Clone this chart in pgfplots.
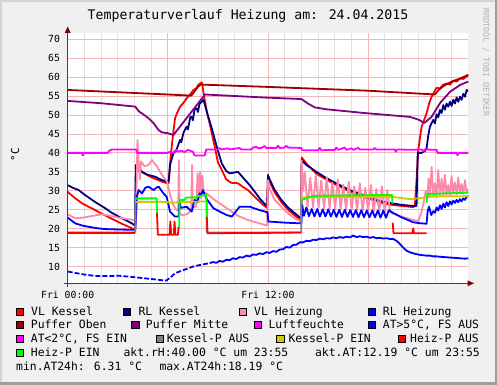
\documentclass[border=0pt]{standalone}
\usepackage{pgfplots}
\pgfplotsset{compat=1.18}
\usepackage{fontspec}
\setmainfont{DejaVu Sans Mono}
\definecolor{bgc}{HTML}{F0F0F0}
\definecolor{bdlight}{HTML}{D4D4D4}
\definecolor{bddark}{HTML}{9E9E9E}
\definecolor{axcol}{HTML}{6A3030}
\definecolor{arrcol}{HTML}{800000}
\definecolor{gridmaj}{HTML}{F2B6B6}
\definecolor{gridmin}{HTML}{E0E0E0}
\definecolor{cVLK}{HTML}{FF0000}
\definecolor{cRLK}{HTML}{000080}
\definecolor{cVLH}{HTML}{FF88AA}
\definecolor{cRLH}{HTML}{0000FF}
\definecolor{cPO}{HTML}{A00000}
\definecolor{cPM}{HTML}{800080}
\definecolor{cLF}{HTML}{FF00FF}
\definecolor{cAT}{HTML}{0000FF}
\definecolor{cATL}{HTML}{FF00FF}
\definecolor{cKA}{HTML}{808080}
\definecolor{cKE}{HTML}{CCCC00}
\definecolor{cHA}{HTML}{FF0000}
\definecolor{cHE}{HTML}{00FF00}
\newcommand{\legfont}{\fontsize{11.4bp}{13bp}\selectfont}
\newcommand{\sw}[3]{\filldraw[fill=#3,draw=black,line width=0.7bp] (#1bp,#2bp-3.6bp) rectangle ++(7.3bp,7.3bp);}
\newcommand{\lt}[3]{\node[anchor=base west,inner sep=0pt,font=\legfont] at (#1bp,#2bp-4bp) {#3};}
\begin{document}
\begin{tikzpicture}
\fill[bgc] (0,0) rectangle (497bp,385bp);
\fill[bdlight] (0,383bp) rectangle (497bp,385bp);
\fill[bdlight] (0,0) rectangle (2bp,385bp);
\fill[bddark] (494.5bp,0) rectangle (497bp,385bp);
\fill[bddark] (0,0) rectangle (497bp,2.5bp);
\begin{axis}[
 at={(67.7bp,101.7bp)}, anchor=south west, scale only axis,
 width=400.6bp, height=250.6bp,
 xmin=0, xmax=24, ymin=5.6, ymax=71.7,
 axis background/.style={fill=white},
 axis line style={draw=none},
 xtick={0,6,12,18}, xticklabels={Fri 00:00,,Fri 12:00,},
 minor xtick={1,2,3,4,5,7,8,9,10,11,13,14,15,16,17,19,20,21,22,23},
 ytick={10,15,...,70}, yticklabels={10,15,20,25,30,35,40,45,50,55,60,65,70},
 grid=both,
 major grid style={draw=gridmaj, line width=0.8bp},
 minor grid style={draw=gridmin, line width=0.8bp},
 major tick length=0pt, minor tick length=0pt,
 tick label style={font=\fontsize{9.8bp}{11bp}\selectfont},
 yticklabel style={anchor=east, inner sep=0pt, xshift=-7.5bp},
 xticklabel style={anchor=north, inner sep=0pt, yshift=-8bp},
 every axis plot/.append style={line width=1.8bp, line join=round, mark=none},
 unbounded coords=jump,
]
% VL Kessel
\addplot[cVLK] coordinates {(0,29.7)(0.4,28.2)(0.86,26.7)(1.25,25.8)(1.65,24.9)(2.2,23.6)(2.65,22.6)(3.2,21.4)(3.65,20.5)(4.0,19.8)(4.05,19.7)(4.1,35.5)(4.45,34.9)(5.0,33.6)(5.65,32.4)(5.95,32.0)(6.05,32.0)(6.15,38)(6.23,41.6)(6.33,45.5)(6.43,49.1)(6.55,50.5)(6.73,52.2)(6.9,53.0)(7.13,54.4)(7.3,55.2)(7.53,56.6)(7.7,57.0)(7.8,57.8)(7.93,58.3)(8.03,58.6)(8.08,57.6)(8.15,55.5)(8.23,53.5)(8.35,50.5)(8.53,47.3)(8.7,43.8)(8.83,41.2)(9.0,37.5)(9.23,35.5)(9.5,33.0)(9.8,32.1)(10.2,32.0)(10.5,31.0)(10.8,30.2)(11.3,28.0)(11.7,26.3)(11.95,25.5)(12.0,33.8)(12.1,32.4)(12.4,29.6)(12.8,27.0)(13.2,25.0)(13.6,23.5)(13.98,22.3)(14.02,38.8)(14.3,37.2)(14.9,34.5)(15.4,33.2)(15.9,32.0)(16.4,30.9)(16.9,29.8)(17.4,29.0)(17.9,28.1)(18.4,27.4)(18.9,26.7)(19.4,26.3)(20.0,26.0)(20.7,25.7)(20.8,26.0)(20.9,33)(21.0,40.75)(21.2,46.9)(21.5,50.4)(21.65,53)(21.8,54.8)(22.1,57.2)(22.3,57.0)(22.5,58.0)(22.7,58.3)(22.9,58.0)(23.1,59.0)(23.3,58.8)(23.5,59.6)(23.7,59.5)(23.9,60.2)(24.0,60.3)};
% RL Kessel
\addplot[cRLK] coordinates {(0,31.5)(0.3,30.8)(0.66,30.2)(1.0,29.0)(1.46,27.6)(1.8,26.6)(2.25,25.4)(2.6,24.3)(3.05,23.2)(3.5,22.2)(3.85,21.4)(4.03,20.8)(4.08,36.8)(4.15,36.8)(4.45,35.0)(4.8,34.2)(5.25,33.7)(5.6,32.9)(5.93,32.4)(6.05,32.6)(6.13,36.8)(6.33,39.9)(6.5,40.6)(6.73,43.4)(6.8,42.8)(6.95,45.5)(7.13,46.9)(7.2,46.2)(7.35,49.5)(7.43,49.5)(7.5,48.6)(7.6,51.5)(7.73,51.7)(7.8,50.8)(7.9,53.0)(8.03,53.5)(8.13,54.0)(8.2,53.0)(8.33,50.9)(8.63,46.5)(8.93,41.6)(9.23,37.2)(9.5,35.2)(9.72,34.6)(10.2,35.0)(10.5,33.5)(10.9,31.5)(11.2,29.8)(11.5,28.0)(11.83,26.4)(11.95,26.0)(12.0,34.2)(12.1,33.0)(12.4,30.2)(12.8,27.6)(13.2,25.6)(13.6,24.1)(13.98,22.75)(14.02,38.1)(14.3,36.8)(14.9,35.0)(15.4,33.6)(15.9,32.4)(16.4,31.3)(16.9,30.2)(17.4,29.4)(17.9,28.6)(18.4,27.8)(18.9,27.1)(19.4,26.7)(20.0,26.3)(20.7,26.0)(20.9,26.0)(20.97,40.0)(21.2,40.0)(21.4,40.5)(21.5,41.2)(21.6,44.5)(21.7,46.9)(21.9,48.7)(22.0,47.8)(22.1,50.2)(22.2,49.4)(22.3,51.3)(22.4,50.5)(22.5,52.6)(22.6,51.4)(22.7,53.0)(22.8,52.2)(22.9,53.5)(23.0,52.4)(23.1,54.0)(23.2,53.0)(23.3,54.6)(23.4,53.5)(23.5,54.8)(23.6,54.0)(23.7,55.6)(23.8,54.8)(23.9,56.6)(24.0,56.3)};
% VL Heizung
\addplot[cVLH] coordinates {(0,23.8)(0.46,22.75)(0.9,22.9)(1.26,23.2)(2.05,23.8)(2.6,23.4)(3.05,22.9)(3.5,22.6)(3.95,22.3)(4.05,22.5)(4.12,30)(4.18,43.4)(4.25,38)(4.32,33)(4.4,37.7)(4.6,36.5)(4.85,36.8)(5.05,38.1)(5.2,37.2)(5.35,36.4)(5.65,34.2)(5.95,32.4)(6.1,29.5)(6.3,26.5)(6.5,25.0)(6.62,24.6)(6.66,38.1)(6.7,24.0)(6.9,23.5)(7.2,24.0)(7.4,25.0)(7.45,36.8)(7.5,25.5)(7.7,26.0)(7.78,34.6)(7.83,27.0)(7.93,35.0)(7.98,28.0)(8.07,34.0)(8.15,29.5)(8.33,29.3)(8.8,27.6)(9.5,25.5)(10.2,23.4)(10.8,22.3)(11.5,21.4)(11.95,20.8)(12.0,32.8)(12.1,30.5)(12.4,27.6)(12.8,25.8)(13.2,24.0)(13.6,22.75)(13.98,21.9)(14.02,38.0)(14.1,30)(14.2,35.0)(14.37,25.8)(14.53,33.5)(14.70,25.6)(14.86,34.2)(15.03,25.5)(15.19,32.8)(15.36,25.4)(15.52,33.6)(15.69,25.3)(15.85,32.2)(16.02,25.2)(16.18,33.0)(16.35,25.1)(16.51,31.6)(16.68,25.0)(16.84,32.4)(17.01,24.9)(17.17,31.2)(17.34,24.8)(17.50,32.0)(17.67,24.7)(17.83,30.8)(18.00,24.6)(18.16,31.5)(18.33,24.5)(18.49,30.5)(18.66,24.4)(18.82,31.2)(18.99,24.3)(19.15,30.2)(19.32,24.3)(19.45,24.0)(20.0,23.2)(20.7,22.3)(21.0,22.0)(21.2,24.5)(21.35,27.5)(21.45,30)(21.55,28)(21.62,33.3)(21.7,28.5)(21.8,36.3)(21.9,28.5)(22.0,32.0)(22.1,28.3)(22.2,35.5)(22.3,28.6)(22.4,33.2)(22.5,28.8)(22.6,34.2)(22.7,29.0)(22.8,31.5)(22.9,28.7)(23.0,34.0)(23.1,29.2)(23.2,32.2)(23.3,29.0)(23.4,33.5)(23.5,29.3)(23.6,31.8)(23.7,29.2)(23.8,32.8)(23.9,29.5)(24.0,30.5)};
% RL Heizung
\addplot[cRLH] coordinates {(0,22.9)(0.46,21.4)(0.9,20.8)(1.26,20.5)(1.8,20.1)(2.25,19.9)(3.0,19.8)(3.95,19.7)(4.05,19.8)(4.15,28.5)(4.25,30.2)(4.45,29.3)(4.65,30.8)(4.85,31.1)(5.0,30.6)(5.15,30.2)(5.3,30.8)(5.45,31.1)(5.7,29.5)(5.93,28.4)(6.13,24.5)(6.43,23.2)(6.65,23.2)(6.7,27.1)(6.78,25.5)(7.13,25.8)(7.43,24.5)(7.6,27.6)(7.75,27.0)(7.9,29.3)(8.0,28.8)(8.1,30.2)(8.3,28.0)(8.73,25.4)(9.2,24.3)(9.53,23.6)(9.83,23.2)(10.3,25.8)(10.9,25.8)(11.5,24.9)(11.83,24.5)(11.97,24.3)(12.02,21.9)(13.0,21.6)(14.0,21.4)(14.05,26.3)(14.15,23.4)(14.3,25.6)(14.45,23.3)(14.62,25.2)(14.78,23.2)(14.95,25.2)(15.11,23.2)(15.28,25.1)(15.44,23.2)(15.61,25.1)(15.77,23.2)(15.94,25.0)(16.1,23.1)(16.27,25.0)(16.43,23.1)(16.6,25.0)(16.76,23.1)(16.93,24.9)(17.09,23.1)(17.26,24.9)(17.42,23.0)(17.59,24.9)(17.75,23.0)(17.92,24.8)(18.08,23.0)(18.25,24.8)(18.41,23.0)(18.58,24.8)(18.74,22.9)(18.91,24.8)(19.07,22.9)(19.24,24.9)(19.45,24.3)(20.0,23.0)(20.7,21.7)(21.0,21.5)(21.5,21.3)(21.56,24.5)(21.65,25.8)(21.78,23.6)(21.9,24.6)(22.0,24.2)(22.1,25.6)(22.2,24.8)(22.3,26.2)(22.4,25.2)(22.5,26.6)(22.6,25.6)(22.7,27.0)(22.8,26.0)(22.9,27.2)(23.0,26.4)(23.1,27.4)(23.2,26.8)(23.3,27.6)(23.4,27.0)(23.5,27.8)(23.6,27.2)(23.7,28.0)(23.8,27.6)(23.9,28.4)(24.0,28.6)};
% Puffer Oben
\addplot[cPO] coordinates {(0,56.6)(3.0,56.0)(6.0,55.4)(7.4,55.1)(7.6,56.2)(7.8,57.4)(8.0,58.1)(8.1,58.0)(12,57.4)(18,56.4)(22,55.4)(22.2,56.5)(22.5,57.6)(23.0,58.8)(23.5,59.6)(24.0,60.6)};
% Puffer Mitte
\addplot[cPM] coordinates {(0,53.7)(2.0,53.1)(4.05,52.2)(4.25,51.0)(4.55,50.1)(4.85,49.1)(5.15,47.8)(5.45,46.0)(5.65,45.4)(6.0,45.2)(6.33,44.7)(8.23,55.4)(11.8,54.6)(14.0,54.2)(14.4,53.0)(14.8,52.0)(15.5,51.5)(17.8,50.5)(20.5,49.5)(21.0,48.8)(21.37,47.9)(21.8,49.5)(22.3,53.1)(22.9,56.1)(23.5,57.9)(24.0,58.8)};
% Luftfeuchte
\addplot[cLF] coordinates {(0,40.0)(0.85,40.0)(0.9,39.3)(0.95,40.0)(2.4,40.0)(2.5,40.6)(2.65,40.9)(4.1,40.9)(4.15,40.0)(6.0,40.0)(6.1,40.3)(6.3,40.0)(6.5,40.8)(6.6,40.3)(6.8,40.6)(7.0,40.2)(7.2,40.8)(7.5,40.3)(7.6,39.3)(8.2,39.3)(8.3,40.9)(9.0,40.9)(9.1,41.3)(9.2,40.9)(9.6,41.2)(9.7,40.9)(10.3,41.3)(10.4,40.9)(11.0,40.9)(11.1,41.4)(11.3,41.6)(11.4,41.2)(11.6,41.3)(11.8,41.8)(11.9,41.3)(12.5,41.3)(12.6,41.9)(12.7,41.3)(13.0,41.4)(13.1,41.9)(13.2,41.4)(14.0,41.3)(14.05,40.7)(15.0,40.7)(15.1,41.3)(15.2,40.7)(16.0,40.8)(16.1,41.4)(16.2,40.8)(16.6,41.4)(16.7,40.8)(17.0,41.2)(17.1,40.8)(17.4,41.3)(17.5,40.9)(18.3,40.9)(18.4,41.3)(18.5,40.9)(19.6,40.9)(19.65,40.3)(19.75,40.9)(20.8,40.8)(21.0,40.9)(21.2,40.9)(21.3,40.4)(21.4,40.9)(22.1,40.8)(22.15,40.0)(23.3,40.0)(23.35,39.4)(23.45,40.0)(24.0,40.0)};
% AT>5 dashed part
\addplot[cAT, dash pattern=on 5bp off 2bp] coordinates {(0,8.7)(0.5,8.3)(1.0,7.9)(1.65,7.55)(2.3,7.5)(3.05,7.6)(3.8,7.3)(4.65,6.9)(5.3,6.6)(5.85,6.3)(5.93,6.4)(6.2,7.3)(6.43,8.25)(7.0,9.2)(7.5,10.0)(8.0,10.5)(8.5,10.9)};
% AT>5 solid part
\addplot[cAT] coordinates {(8.5,10.9)(8.7,11.2)(8.9,11.0)(9.1,11.5)(9.3,11.3)(9.5,11.8)(9.7,11.7)(9.9,12.2)(10.1,12.0)(10.3,12.5)(10.5,12.4)(10.7,12.9)(10.9,12.7)(11.1,13.2)(11.3,13.1)(11.5,13.5)(11.7,13.3)(11.9,13.8)(12.1,13.6)(12.3,14.1)(12.5,13.9)(12.7,14.5)(12.9,14.6)(13.1,15.2)(13.3,15.0)(13.5,15.7)(13.7,15.8)(13.9,16.4)(14.1,16.4)(14.3,16.8)(14.5,16.7)(14.7,17.1)(14.9,17.0)(15.1,17.4)(15.3,17.2)(15.5,17.5)(15.7,17.4)(15.9,17.7)(16.1,17.5)(16.3,17.8)(16.5,17.6)(16.7,17.9)(16.9,17.7)(17.1,18.2)(17.3,17.8)(17.5,18.0)(17.7,17.8)(17.9,17.9)(18.1,17.6)(18.3,17.8)(18.5,17.5)(18.7,17.6)(18.9,17.4)(19.1,17.5)(19.3,17.3)(19.5,17.3)(19.7,16.8)(19.9,16.0)(20.1,15.0)(20.3,14.2)(20.5,13.8)(20.7,13.5)(20.9,13.3)(21.1,13.1)(21.3,13.0)(21.5,12.9)(21.7,12.9)(21.9,12.7)(22.1,12.7)(22.3,12.6)(22.6,12.5)(22.9,12.4)(23.2,12.3)(23.5,12.2)(23.8,12.1)(24.0,12.19)};
% Kessel-P AUS
\addplot[cKA] coordinates {(0,19.0)(4.05,19.0)(4.06,27.0)(4.07,nan)(8.33,27.0)(8.34,19.0)(13.99,19.0)(14.0,27.5)};
% Kessel-P EIN
\addplot[cKE] coordinates {(4.06,27.0)(5.5,27.1)(6.0,27.0)(6.3,26.8)(6.6,27.0)(8.33,27.2)(8.34,nan)(14.0,27.5)(14.1,28.3)(19.4,28.4)(20.0,28.1)(20.5,27.8)(21.0,28.0)(21.5,28.3)(22.0,28.5)(24.0,28.6)};
% Heiz-P AUS
\addplot[cHA] coordinates {(0,18.9)(4.03,18.9)(4.04,nan)(5.35,24.1)(5.4,18.4)(6.1,18.4)(6.15,21.9)(6.2,18.4)(6.36,18.4)(6.4,21.9)(6.45,18.4)(6.6,18.4)(6.65,20.5)(6.66,nan)(8.33,23.2)(8.38,18.8)(12.0,18.9)(13.98,19.0)(13.99,nan)(19.47,21.6)(19.52,18.8)(20.65,18.8)(20.7,20.1)(20.75,18.8)(21.5,18.8)};
% Heiz-P EIN
\addplot[cHE] coordinates {(4.05,27.6)(4.1,28.0)(5.33,28.0)(5.35,24.1)(5.36,nan)(6.68,20.5)(6.7,27.6)(7.0,27.6)(7.1,28.2)(7.6,28.3)(7.7,28.0)(7.8,28.6)(8.0,28.7)(8.3,28.9)(8.33,23.2)(8.34,nan)(14.02,27.0)(14.05,27.6)(14.5,28.4)(15,28.7)(17,28.8)(19.43,28.9)(19.45,26.6)(19.46,nan)(21.5,26.8)(21.55,29.1)(22.5,29.3)(24,29.5)};
\end{axis}
% axes with arrows
\draw[axcol, line width=1bp] (67.7bp,98bp) -- (67.7bp,353bp);
\fill[arrcol] (64.7bp,352bp) -- (70.7bp,352bp) -- (67.7bp,358.5bp) -- cycle;
\draw[axcol, line width=1bp] (63.5bp,101.7bp) -- (468bp,101.7bp);
\fill[arrcol] (467.5bp,98.7bp) -- (467.5bp,104.7bp) -- (474bp,101.7bp) -- cycle;
% title and labels
\node[font=\fontsize{13.2bp}{15bp}\selectfont, inner sep=0pt] at (248bp,369bp) {Temperaturverlauf Heizung am: 24.04.2015};
\node[rotate=90, font=\fontsize{11bp}{13bp}\selectfont, inner sep=0pt] at (15bp,230bp) {°C};
\node[rotate=-90, font=\fontsize{8.2bp}{9bp}\selectfont, text=black!30, inner sep=0pt] at (486bp,322.5bp) {RRDTOOL / TOBI OETIKER};
% legend
\sw{16}{73.3}{cVLK}\lt{31}{73.3}{VL Kessel}
\sw{123.3}{73.3}{cRLK}\lt{138.3}{73.3}{RL Kessel}
\sw{239.3}{73.3}{cVLH}\lt{254}{73.3}{VL Heizung}
\sw{368.3}{73.3}{cRLH}\lt{382.7}{73.3}{RL Heizung}
\sw{16}{60}{cPO}\lt{30.7}{60}{Puffer Oben}
\sw{131.7}{60}{cPM}\lt{145.7}{60}{Puffer Mitte}
\sw{254}{60}{cLF}\lt{268.3}{60}{Luftfeuchte}
\sw{368.3}{60}{cAT}\lt{382.7}{60}{AT>5°C, FS AUS}
\sw{16}{46}{cATL}\lt{30.7}{46}{AT<2°C, FS EIN}
\sw{156}{46}{cKA}\lt{166.7}{46}{Kessel-P AUS}
\sw{276.7}{46}{cKE}\lt{288.3}{46}{Kessel-P EIN}
\sw{398.3}{46}{cHA}\lt{410}{46}{Heiz-P AUS}
\sw{16}{32.3}{cHE}\lt{30.7}{32.3}{Heiz-P EIN}
\lt{123.4}{32.3}{akt.rH:40.00 °C um 23:55}
\node[anchor=base east,inner sep=0pt,font=\legfont] at (480bp,28.3bp) {akt.AT:12.19 °C um 23:55};
\lt{16}{18.3}{min.AT24h: 6.31 °C}
\lt{159.3}{18.3}{max.AT24h:18.19 °C}
\pgfresetboundingbox
\useasboundingbox (0,0) rectangle (497bp,385bp);
\end{tikzpicture}
\end{document}
